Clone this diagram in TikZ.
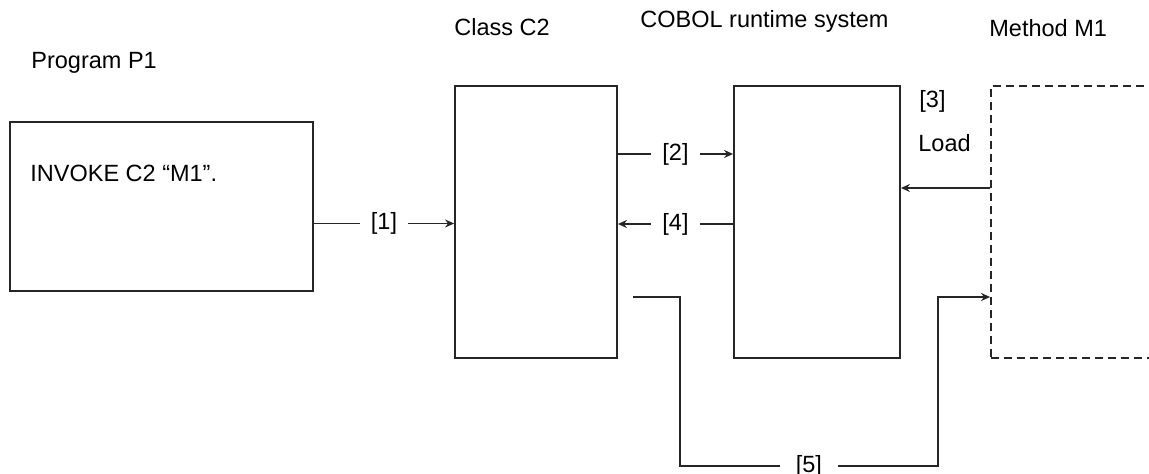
\documentclass[tikz,border=0pt]{standalone}
\usepackage{fontspec}
\setmainfont{Liberation Sans}
\usetikzlibrary{arrows.meta,calc}

\begin{document}
\begin{tikzpicture}[
        x=0.5pt, y=-0.5pt,
        font=\fontsize{11.75pt}{14pt}\selectfont,
        box/.style={draw=black!85, line width=0.9pt, inner sep=0pt},
        title/.style={anchor=base west, inner sep=0pt},
        tag/.style={fill=white, inner xsep=5.5pt, inner ysep=1pt},
        line/.style={draw=black!85, line width=0.9pt},
        arr/.style={line, -{Stealth[length=4.5pt, width=4pt]}},
    ]

    \clip (0,0) rectangle (1149,474);

    \node[box, minimum width=151.5pt, minimum height=84.5pt] (p1) at (161.5,206.5) {};
    \node[box, minimum width=81pt, minimum height=136pt] (c2) at (536,222) {};
    \node[box, minimum width=83pt, minimum height=136pt] (rts) at (817,222) {};
    \node[box, dash pattern=on 4pt off 2.5pt,
          minimum width=110pt, minimum height=136pt] (m1) at (1101,222) {};

    \node[title] (p1t) at (31,68.5) {Program P1};
    \node[title] (c2t) at (454,35.5) {Class C2};
    \node[title] (rtst) at (640,28) {COBOL runtime system};
    \node[title] (m1t) at (989,37) {Method M1};
    \node[title] (inv) at (30,181.5) {INVOKE C2 “M1”.};
    \node[title] (n3) at (919,108) {[3]};
    \node[title] (load) at (918,152) {Load};

    \draw[arr] ($(p1.east)+(0,17)$) coordinate (a1) -- node[tag] {[1]} (a1 -| c2.west);
    \draw[arr] ($(c2.east)+(0,-68)$) coordinate (a2) -- node[tag] {[2]} (a2 -| rts.west);
    \draw[arr] ($(m1.west)+(0,-34)$) coordinate (a3) -- (a3 -| rts.east);
    \draw[arr] ($(rts.west)+(0,2)$) coordinate (a4) -- node[tag] {[4]} (a4 -| c2.east);
    \draw[arr] ($(c2.east)+(15,75)$) coordinate (a5) -- ++(47,0) -- ++(0,169)
        -- node[tag, inner xsep=8pt] {[5]} ++(258,0) |- (a5 -| m1.west);

\end{tikzpicture}
\end{document}
